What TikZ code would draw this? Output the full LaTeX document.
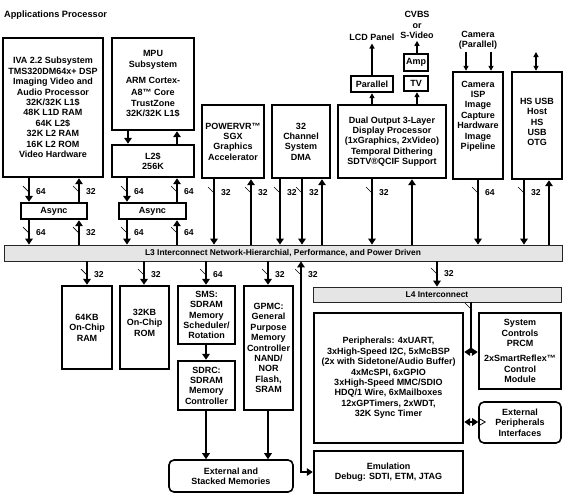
\documentclass[tikz,border=0pt]{standalone}
\usepackage{fontspec}
\setmainfont{Liberation Sans}
\usetikzlibrary{arrows.meta}
\tikzset{
  every node/.style={font=\fontsize{9}{10.4}\selectfont\bfseries},
  box/.style={draw, line width=2.4pt, inner sep=0pt, align=center},
  bar/.style={draw=black!85, fill=black!10, line width=0.8pt, inner sep=0pt, font=\fontsize{8.4}{10}\selectfont\bfseries},
  rbox/.style={draw, line width=1.6pt, rounded corners=5pt, inner sep=0pt, align=center},
  bus/.style={line width=2.6pt, -{Triangle[width=7.5pt,length=6pt]}},
  dbus/.style={line width=2.6pt, {Triangle[width=7.5pt,length=6pt]}-{Triangle[width=7.5pt,length=6pt]}},
  sbus/.style={line width=2.6pt},
  tarr/.style={line width=1.3pt, -{Triangle[width=5pt,length=5pt]}},
  tdarr/.style={line width=1.3pt, {Triangle[width=5pt,length=5pt]}-{Triangle[width=5pt,length=5pt]}},
  wl/.style={anchor=west, inner sep=0pt, font=\fontsize{8.6}{10}\selectfont\bfseries},
  tickmark/.style={line width=0.7pt},
  txt/.style={align=center, inner sep=0pt},
}
\newcommand\bx[7]{\node[#6, minimum width={(#4-#2)*1pt}, minimum height={(#5-#3)*1pt}] (#1) at ({(#2+#4)/2},{(#3+#5)/2}) {#7};}
\newcommand\buslbl[4]{\draw[tickmark] ({#2-6},{#3-6}) -- ({#2+1},{#3+1}); \node[wl] (#1) at ({#2+7},#3) {#4};}
\begin{document}
\begin{tikzpicture}[x=1pt,y=-1pt]
\useasboundingbox (0,0) rectangle (579,499);
\node[anchor=west, inner sep=0pt, font=\fontsize{9.2}{11}\selectfont\bfseries] (title) at (4,15) {Applications Processor};

% upper boxes
\bx{iva}{3}{38}{103}{177}{box}{IVA 2.2 Subsystem\\TMS320DM64x+ DSP\\Imaging Video and\\Audio Processor\\32K/32K L1\$\\48K L1D RAM\\64K L2\$\\32K L2 RAM\\16K L2 ROM\\Video Hardware}
\bx{mpu}{112}{38}{194}{130}{box}{MPU\\Subsystem\\[6pt]ARM Cortex-\\[2pt]A8™ Core\\TrustZone\\32K/32K L1\$}
\bx{l2}{112}{145}{194}{177}{box}{L2\$\\256K}
\bx{as1}{21}{203}{87}{219}{box}{Async}
\bx{as2}{119}{203}{186}{219}{box}{Async}
\bx{pvr}{202}{105}{264}{178}{box}{POWERVR™\\SGX\\Graphics\\Accelerator}
\bx{dma}{272}{105}{330}{178}{box}{32\\Channel\\System\\DMA}
\bx{disp}{338}{105}{446}{178}{box}{Dual Output 3-Layer\\Display Processor\\(1xGraphics, 2xVideo)\\Temporal Dithering\\SDTV®QCIF Support}
\bx{par}{351}{76}{393}{92}{box}{Parallel}
\bx{amp}{404}{54}{428}{71}{box}{Amp}
\bx{tv}{404}{76}{428}{91}{box}{TV}
\bx{cam}{453}{72}{503}{179}{box}{}
\node[txt] (camt) at (478,116) {Camera\\ISP\\Image\\Capture\\Hardware\\Image\\Pipeline};
\bx{usb}{512}{72}{562}{179}{box}{}
\node[txt] (usbt) at (537,122) {HS USB\\Host\\HS\\USB\\OTG};

% outside labels
\node[txt] (lcd) at (372,37) {LCD Panel};
\node[txt] (cvbs) at (417,25) {CVBS\\or\\S-Video};
\node[txt] (camin) at (478,40) {Camera\\(Parallel)};
\coordinate (usbtop) at (536,52);

% bars
\bx{lthree}{4}{245}{562}{261}{bar}{L3 Interconnect Network-Hierarchial, Performance, and Power Driven}
\bx{lfour}{313}{287}{561}{302}{bar}{L4 Interconnect}

% lower boxes
\bx{ram}{62}{286}{112}{369}{box}{64KB\\On-Chip\\RAM}
\bx{rom}{120}{286}{169}{369}{box}{}
\node[txt] (romt) at (144.5,322.5) {32KB\\On-Chip\\ROM};
\bx{sms}{178}{286}{235}{344}{box}{SMS:\\SDRAM\\Memory\\Scheduler/\\Rotation}
\bx{sdrc}{178}{361}{235}{410}{box}{SDRC:\\SDRAM\\Memory\\Controller}
\bx{gpmc}{244}{286}{293}{410}{box}{GPMC:\\General\\Purpose\\Memory\\Controller\\NAND/\\NOR\\Flash,\\SRAM}
\bx{extmem}{169}{460}{293}{492}{rbox}{External and\\Stacked Memories}
\bx{periph}{314}{313}{463}{443}{box}{Peripherals: 4xUART,\\3xHigh-Speed I2C, 5xMcBSP\\(2x with Sidetone/Audio Buffer)\\4xMcSPI, 6xGPIO\\3xHigh-Speed MMC/SDIO\\HDQ/1 Wire, 6xMailboxes\\12xGPTimers, 2xWDT,\\32K Sync Timer}
\bx{sysctl}{479}{313}{561}{389}{box}{System\\Controls\\PRCM\\[5pt]2xSmartReflex™\\Control\\Module}
\bx{extper}{479}{402}{561}{443}{rbox}{External\\Peripherals\\Interfaces}
\bx{emu}{314}{451}{463}{493}{box}{Emulation\\Debug: SDTI, ETM, JTAG}

% IVA / Async 1
\draw[bus] (iva.south -| 29,0) -- (as1.north -| 29,0);
\draw[bus] (as1.north -| 79,0) -- (iva.south -| 79,0);
\draw[bus] (as1.south -| 29,0) -- (lthree.north -| 29,0);
\draw[bus] (lthree.north -| 79,0) -- (as1.south -| 79,0);
\buslbl{w1}{29}{192}{64}
\buslbl{w2}{79}{192}{32}
\buslbl{w3}{29}{233}{64}
\buslbl{w4}{79}{233}{32}

% MPU / L2 / Async 2
\draw[bus] (mpu.south -| 128,0) -- (l2.north -| 128,0);
\draw[bus] (l2.north -| 177,0) -- (mpu.south -| 177,0);
\draw[bus] (l2.south -| 127,0) -- (as2.north -| 127,0);
\draw[bus] (as2.north -| 177,0) -- (l2.south -| 177,0);
\draw[bus] (as2.south -| 127,0) -- (lthree.north -| 127,0);
\draw[bus] (lthree.north -| 177,0) -- (as2.south -| 177,0);
\buslbl{w5}{127}{192}{64}
\buslbl{w6}{177}{192}{64}
\buslbl{w7}{127}{233}{64}
\buslbl{w8}{177}{233}{64}

% top row to L3
\draw[bus] (pvr.south -| 214,0) -- (lthree.north -| 214,0);
\draw[bus] (lthree.north -| 251,0) -- (pvr.south -| 251,0);
\buslbl{w9}{214}{193}{32}
\buslbl{w10}{251}{193}{32}
\draw[bus] (dma.south -| 280,0) -- (lthree.north -| 280,0);
\draw[bus] (dma.south -| 302,0) -- (lthree.north -| 302,0);
\draw[bus] (lthree.north -| 322,0) -- (dma.south -| 322,0);
\buslbl{w11}{280}{193}{32}
\buslbl{w12}{302}{193}{32}
\draw[bus] (disp.south -| 372,0) -- (lthree.north -| 372,0);
\draw[bus] (lthree.north -| 412,0) -- (disp.south -| 412,0);
\buslbl{w13}{372}{193}{32}
\draw[bus] (cam.south -| 478,0) -- (lthree.north -| 478,0);
\buslbl{w14}{478}{193}{64}
\draw[bus] (usb.south -| 524,0) -- (lthree.north -| 524,0);
\draw[bus] (lthree.north -| 549,0) -- (usb.south -| 549,0);
\buslbl{w15}{524}{193}{32}

% display outputs, camera, usb
\draw[tarr] (disp.north -| 372,0) -- (par.south -| 372,0);
\draw[tarr, shorten >=3pt] (par.north -| 372,0) -- (lcd.south -| 372,0);
\draw[tarr] (disp.north -| 417,0) -- (tv.south -| 417,0);
\draw[tarr, shorten >=2pt] (amp.north -| 417,0) -- (cvbs.south -| 417,0);
\draw[tarr, shorten <=3pt] (camin.south -| 466,0) -- (cam.north -| 466,0);
\draw[tarr, shorten <=3pt] (camin.south -| 491,0) -- (cam.north -| 491,0);
\draw[tdarr] (usbtop) -- (usb.north -| usbtop);

% below L3
\draw[bus] (lthree.south -| 87,0) -- (ram.north -| 87,0);
\draw[bus] (lthree.south -| 144,0) -- (rom.north -| 144,0);
\draw[bus] (lthree.south -| 206,0) -- (sms.north -| 206,0);
\draw[bus] (lthree.south -| 268,0) -- (gpmc.north -| 268,0);
\draw[dbus] (lthree.south -| 301,0) -- (301,472) -- (emu.west |- 0,472);
\draw[bus] (lthree.south -| 437,0) -- (lfour.north -| 437,0);
\buslbl{w16}{87}{275}{32}
\buslbl{w17}{144}{275}{32}
\buslbl{w18}{206}{275}{64}
\buslbl{w19}{268}{275}{32}
\buslbl{w20}{301}{275}{32}
\buslbl{w21}{437}{274}{32}

% memory chain
\draw[bus] (sms.south -| 206,0) -- (sdrc.north -| 206,0);
\draw[bus] (sdrc.south -| 206,0) -- (extmem.north -| 206,0);
\draw[bus] (gpmc.south -| 268,0) -- (extmem.north -| 268,0);

% L4 to peripherals
\coordinate (tee) at (471,352);
\draw[sbus] (lfour.south -| tee) -- (tee);
\draw[tickmark] (465,303) -- (472,310);
\draw[dbus] (periph.east |- tee) -- (sysctl.west |- tee);
\coordinate (pe) at (471,422);
\draw[dbus] (periph.east |- pe) -- (extper.west |- pe);
\draw[line width=0.8pt, line join=miter] (extper.west |- 0,418) -- ++(7,4) -- ++(-7,4);
\end{tikzpicture}
\end{document}
